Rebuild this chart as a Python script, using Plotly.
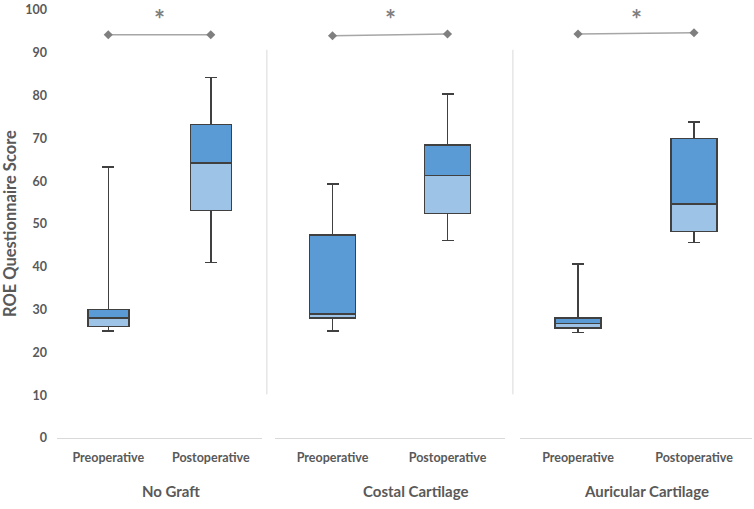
import plotly.graph_objects as go

groups = ["No Graft", "Costal Cartilage", "Auricular Cartilage"]
periods = ["Preoperative", "Postoperative"]

# five-number summaries, [preop, postop] for each graft group
minimum = [[25.0, 41.0], [25.0, 46.2], [24.6, 45.7]]
q1 = [[26.0, 53.2], [28.0, 52.5], [25.7, 48.3]]
median = [[28.0, 64.2], [29.0, 61.3], [26.7, 54.7]]
q3 = [[30.0, 73.3], [47.4, 68.5], [28.0, 70.0]]
maximum = [[63.3, 84.2], [59.3, 80.4], [40.6, 73.8]]

# significance bracket heights
sig_y = [[94.2, 94.2], [94.0, 94.4], [94.4, 94.7]]
sig_label = "*"

DARK = "#5b9bd5"
LIGHT = "#9dc3e6"
EDGE = "#404040"
TEXT = "#595959"
FONT = "Lato"

domains = [[0.0, 0.295], [0.3137, 0.6446], [0.6662, 1.0]]
title_x = [0.164, 0.5165, 0.8475]
sep_x = [0.302, 0.656]

fig = go.Figure()
layout_axes = {}
annotations = []

for i, g in enumerate(groups):
    xa = "x" if i == 0 else f"x{i + 1}"
    low = [a - b for a, b in zip(q1[i], minimum[i])]
    lower_half = [a - b for a, b in zip(median[i], q1[i])]
    upper_half = [a - b for a, b in zip(q3[i], median[i])]
    high = [a - b for a, b in zip(maximum[i], q3[i])]

    # invisible base up to Q1, carries the lower whisker
    fig.add_trace(go.Bar(
        x=periods, y=q1[i], width=0.4, xaxis=xa, yaxis="y",
        marker=dict(color="rgba(0,0,0,0)", line=dict(width=0)),
        error_y=dict(type="data", symmetric=False, array=[0, 0], arrayminus=low,
                     color=EDGE, thickness=1.5, width=6),
        showlegend=False, hoverinfo="skip",
    ))
    fig.add_trace(go.Bar(
        x=periods, y=lower_half, width=0.4, xaxis=xa, yaxis="y",
        marker=dict(color=LIGHT, line=dict(color=EDGE, width=1.5)),
        showlegend=False,
    ))
    fig.add_trace(go.Bar(
        x=periods, y=upper_half, width=0.4, xaxis=xa, yaxis="y",
        marker=dict(color=DARK, line=dict(color=EDGE, width=1.5)),
        error_y=dict(type="data", symmetric=False, array=high, arrayminus=[0, 0],
                     color=EDGE, thickness=1.5, width=6),
        showlegend=False,
    ))
    fig.add_trace(go.Scatter(
        x=periods, y=sig_y[i], xaxis=xa, yaxis="y", mode="lines+markers",
        line=dict(color="#a6a6a6", width=1.5),
        marker=dict(symbol="diamond", size=7, color="#7f7f7f"),
        cliponaxis=False, showlegend=False, hoverinfo="skip",
    ))

    layout_axes["xaxis" if i == 0 else f"xaxis{i + 1}"] = dict(
        domain=domains[i], anchor="y", range=[-0.5, 1.5],
        showline=True, linecolor="#d9d9d9", linewidth=1,
        showgrid=False, zeroline=False, ticks="", ticklabelstandoff=8,
        tickfont=dict(family=FONT, size=12.5, color=TEXT, weight="bold"),
    )
    # star sits at the very top of the figure
    annotations.append(dict(
        x=0.5, xref=xa, y=1 + 8 / 430, yref="paper", text=sig_label, showarrow=False,
        xanchor="center", yanchor="top", borderpad=0,
        font=dict(family=FONT, size=26, color="#7f7f7f", weight="bold"),
    ))
    annotations.append(dict(
        x=title_x[i], xref="paper", y=-0.123, yref="paper", text=g, showarrow=False,
        xanchor="center", yanchor="middle",
        font=dict(family=FONT, size=15, color=TEXT, weight="bold"),
    ))

annotations.append(dict(
    x=-0.0676, xref="paper", y=0.5, yref="paper", text="ROE Questionnaire Score",
    textangle=-90, showarrow=False, xanchor="center", yanchor="middle",
    font=dict(family=FONT, size=16.5, color=TEXT, weight="bold"),
))

fig.update_layout(
    width=754, height=509,
    margin=dict(l=57, r=2, t=8, b=71),
    paper_bgcolor="white", plot_bgcolor="white",
    barmode="stack",
    yaxis=dict(
        range=[0, 100], dtick=10, showgrid=False, showline=False, zeroline=False,
        ticks="", ticklabelstandoff=9, ticklabeloverflow="allow",
        tickfont=dict(family=FONT, size=12.5, color=TEXT, weight="bold"),
    ),
    annotations=annotations,
    shapes=[
        dict(type="line", xref="paper", yref="y", x0=x, x1=x, y0=10.2, y1=90.7,
             line=dict(color="#d9d9d9", width=1))
        for x in sep_x
    ],
    **layout_axes,
)

fig.write_html(
    "out.html",
    config={"displayModeBar": False},
    post_script="document.body.style.margin = '0';",
)
